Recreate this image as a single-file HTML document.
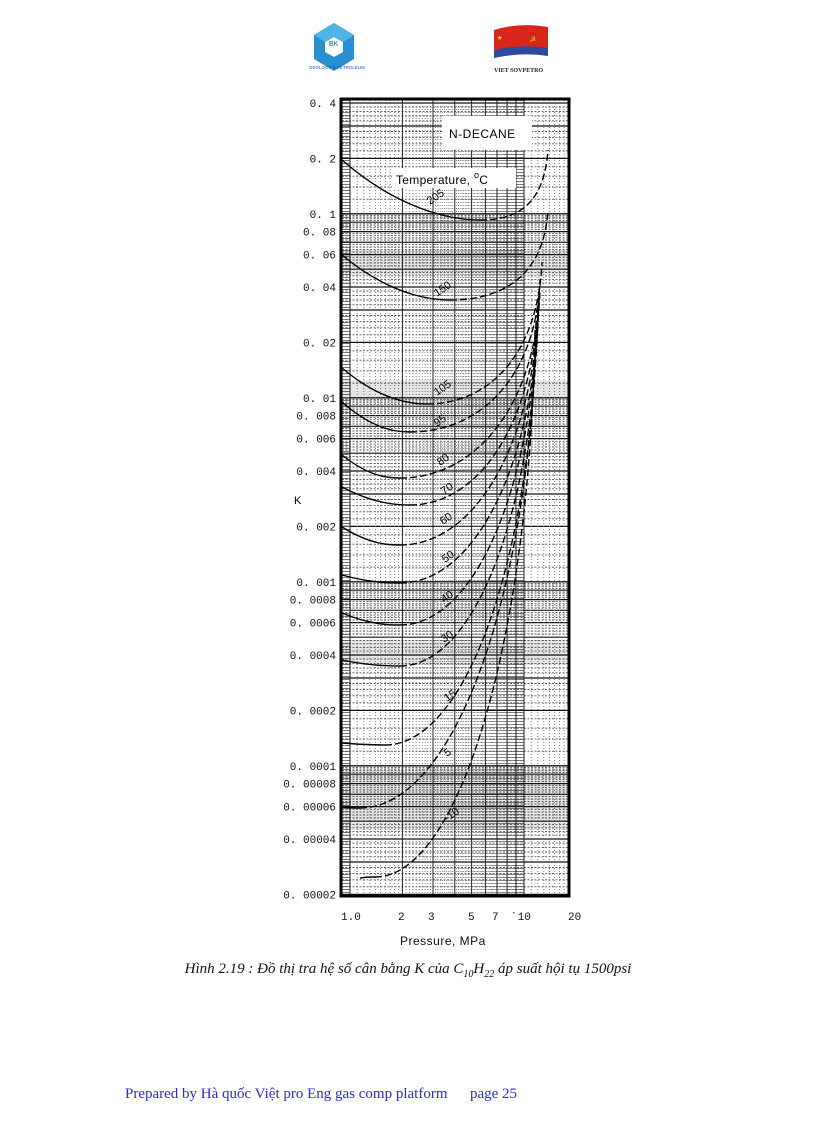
<!DOCTYPE html>
<html><head><meta charset="utf-8"><style>
body{margin:0;background:#fff;width:816px;height:1123px;position:relative;overflow:hidden}
.cap{position:absolute;top:961px;left:0;width:816px;text-align:center;font:italic 15px "Liberation Serif",serif;color:#111}
.foot{position:absolute;top:1086px;left:125px;font:15px "Liberation Serif",serif;color:#2b2bd6;white-space:pre}
</style></head><body>
<svg id="s" width="816" height="1123" style="position:absolute;left:0;top:0" font-family="Liberation Mono, monospace">
<g transform="translate(334,47)">
<polygon points="0,-24 20,-12 20,12 0,24 -20,12 -20,-12" fill="#2a8fd0"/>
<polygon points="0,-10 9,-5 9,5 0,10 -9,5 -9,-5" fill="#fff"/>
<polygon points="0,-24 20,-12 9,-5 0,-10 -9,-5 -20,-12" fill="#4fb3e6"/>
<text x="-5" y="-1" font-size="7" fill="#1560a8" font-family="Liberation Sans">BK</text>
</g>
<text x="309" y="69" font-size="4.5" fill="#1a4fa0" font-family="Liberation Sans">GEOLOGY &amp; PETROLEUM</text>
<path d="M494,30 Q520,22 548,27 L548,55 Q522,50 494,56 Z" fill="#d8261c"/>
<path d="M494,50 Q520,44 548,48 L548,56 Q522,52 494,58 Z" fill="#2a4c9a"/>
<text x="497" y="40" font-size="9" fill="#ffdc00">★</text>
<text x="530" y="42" font-size="9" fill="#ffdc00">☭</text>
<text x="494" y="72" font-size="6" font-weight="bold" fill="#222" font-family="Liberation Serif">VIET SOVPETRO</text>
<g id="grid"></g>
<g id="curves" fill="none" stroke="#000" stroke-width="1.4"></g>
<rect x="442" y="116" width="90" height="34" fill="#fff"/>
<text x="449" y="138" font-size="12" font-family="Liberation Sans" letter-spacing="0.5">N-DECANE</text>
<rect x="392" y="168" width="124" height="20" fill="#fff"/>
<text x="396" y="184" font-size="12" font-family="Liberation Sans" letter-spacing="0.3">Temperature, <tspan dy="-6" font-size="9">o</tspan><tspan dy="6">C</tspan></text>
<rect x="341" y="99" width="228" height="797" fill="none" stroke="#000" stroke-width="3"/>
<g id="labels" font-size="11" fill="#111"></g>
<text x="294" y="504" font-size="11" font-family="Liberation Sans">K</text>
<g font-size="11" fill="#111">
<text x="341" y="920">1.0</text><text x="398" y="920">2</text><text x="428" y="920">3</text>
<text x="468" y="920">5</text><text x="492" y="920">7</text><text x="511" y="920">ˋ10</text><text x="568" y="920">20</text>
</g>
<text x="400" y="945" font-size="12" font-family="Liberation Sans" letter-spacing="0.5" fill="#111">Pressure, MPa</text>
</svg>
<div class="cap">Hình 2.19 : Đồ thị tra hệ số cân bằng K của C<sub style="font-size:10px">10</sub>H<sub style="font-size:10px">22</sub> áp suất hội tụ 1500psi</div>
<div class="foot">Prepared by Hà quốc Việt pro Eng gas comp platform      page 25</div>
<script>
const NS="http://www.w3.org/2000/svg";
function el(t,a,p){const e=document.createElementNS(NS,t);for(const k in a)e.setAttribute(k,a[k]);p.appendChild(e);return e;}
const Y=v=>103+184*(Math.log10(0.4)-Math.log10(v));
const X=p=>350+174*Math.log10(p);
const g=document.getElementById('grid');
for(let d=-5;d<=0;d++){for(let m=1;m<10;m+=0.2){const v=m*Math.pow(10,d);const y=Y(v);if(y<100||y>895)continue;
 const major=Math.abs(m-Math.round(m))<0.01;
 el('line',{x1:342,x2:568,y1:y.toFixed(1),y2:y.toFixed(1),stroke:major?'#111':'#555','stroke-width':major?1.2:0.9,'stroke-dasharray':major?'':'2 1.5'},g);}}
for(let d=-1;d<=1;d++){for(let m=1;m<10;m+=0.1){const p=m*Math.pow(10,d);const x=X(p);if(x<342||x>568)continue;
 const major=Math.abs(m-Math.round(m))<0.01;
 el('line',{x1:x.toFixed(1),x2:x.toFixed(1),y1:100,y2:895,stroke:major?'#222':'#666','stroke-width':major?1:0.8,'stroke-dasharray':major?'':'1 2'},g);}}
[[770,830],[380,400],[640,665],[250,275]].forEach(b=>el('rect',{x:342,y:b[0],width:226,height:b[1]-b[0],fill:'#000',opacity:0.1},g));
const L=document.getElementById('labels');
["0.4","0.2","0.1","0.08","0.06","0.04","0.02","0.01","0.008","0.006","0.004","0.002","0.001","0.0008","0.0006","0.0004","0.0002","0.0001","0.00008","0.00006","0.00004","0.00002"].forEach(s=>{
 el('text',{x:336,y:(Y(parseFloat(s))+4).toFixed(1),'text-anchor':'end'},L).textContent=s.replace('.', '. ');});
const C=[["205",342,160,480,220,548,150,430,205],["150",342,255,450,300,548,210,437,297],
["105",342,368,427,404,542,262,437,396],["95",342,402,410,432,540,280,437,427],
["80",342,455,400,478,540,290,440,466],["70",342,487,410,505,539,295,444,495],
["60",342,527,400,545,539,298,443,525],["50",342,575,400,583,539,300,445,563],
["40",342,613,400,625,538,305,444,603],["30",342,660,400,666,538,310,444,643],
["15",342,743,385,745,537,315,447,702],["5",342,807,360,808,536,320,447,757],
["-10",360,878,375,877,535,330,447,822]];
const cg=document.getElementById('curves');
C.forEach(c=>{const[lb,x0,y0,xm,ym,xe,ye,lx,ly]=c;
 el('path',{d:`M${x0},${y0} C${(x0+xm)/2},${ym} ${xm-10},${ym} ${xm},${ym}`},cg);
 el('path',{d:`M${xm},${ym} C${xm+0.55*(xe-xm)},${ym} ${xe-4},${(ym+ye)/2+20} ${xe},${ye}`,'stroke-dasharray':'7 3'},cg);
 const t=el('text',{x:lx,y:ly,'font-size':11,fill:'#000',stroke:'none','font-family':'Liberation Sans',transform:`rotate(-35 ${lx} ${ly})`},document.getElementById('s'));
 t.textContent=lb;});
</script>
</body></html>
